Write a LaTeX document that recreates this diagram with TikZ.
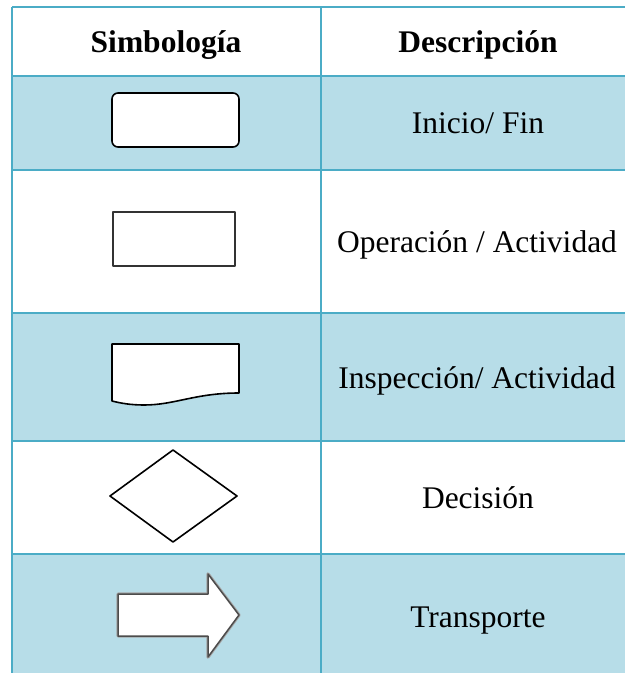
\documentclass[tikz,border=0pt]{standalone}
\usepackage{fontspec}
\setmainfont{Liberation Serif}
\definecolor{gridblue}{HTML}{4BACC6}
\definecolor{rowblue}{HTML}{B7DDE8}

\begin{document}
\begin{tikzpicture}[x=1pt,y=-1pt,
  cell/.style={font=\fontsize{31.5}{36}\selectfont, anchor=base, inner sep=0pt},
  head/.style={cell, font=\fontsize{31.5}{36}\selectfont\bfseries},
  rule/.style={draw=gridblue, line width=2.6pt},
  symbol/.style={draw=black, fill=white, line width=1.6pt, line join=round}]
\useasboundingbox (0,0) rectangle (625,673);
\fill[white] (0,0) rectangle (625,673);

% shaded rows
\fill[rowblue] (12,76) rectangle (625,170);
\fill[rowblue] (12,313) rectangle (625,441);
\fill[rowblue] (12,554) rectangle (625,673);

% table rules
\foreach \y in {7,76,170,313,441,554} \draw[rule] (12,\y) -- (625,\y);
\draw[rule] (12,7) -- (12,673);
\draw[rule] (321,7) -- (321,673);

% header
\node[head] (hsym) at (166,52) {Simbología};
\node[head] (hdesc) at (478,52) {Descripción};

% descriptions
\node[cell] (d1) at (478,133) {Inicio/ Fin};
\node[cell] (d2) at (477,252) {Operación / Actividad};
\node[cell] (d3) at (477,388) {Inspección/ Actividad};
\node[cell] (d4) at (478,508) {Decisión};
\node[cell] (d5) at (478,627) {Transporte};

% start / end terminal
\draw[symbol, rounded corners=6pt] (112,93) rectangle (239,147);

% operation
\draw[symbol, draw=black!80, line width=1.9pt] (113,212) rectangle (235,266);

% inspection (document shape)
\draw[symbol] (112,401) -- (112,344) -- (239,344) -- (239,393)
  .. controls (195,393) and (175,405) .. (144,405)
  .. controls (130,405) and (120,403) .. (112,401) -- cycle;

% decision
\draw[symbol] (173,450) -- (237,496) -- (173,542) -- (110,496) -- cycle;

% transport arrow
\path[draw=black!35, line width=3.4pt, line join=round]
  (118,594) -- (208,594) -- (208,574) -- (239,615) -- (208,657) -- (208,636) -- (118,636) -- cycle;
\path[fill=white, draw=black!70, line width=1.5pt, line join=round]
  (118,594) -- (208,594) -- (208,574) -- (239,615) -- (208,657) -- (208,636) -- (118,636) -- cycle;
\end{tikzpicture}
\end{document}
